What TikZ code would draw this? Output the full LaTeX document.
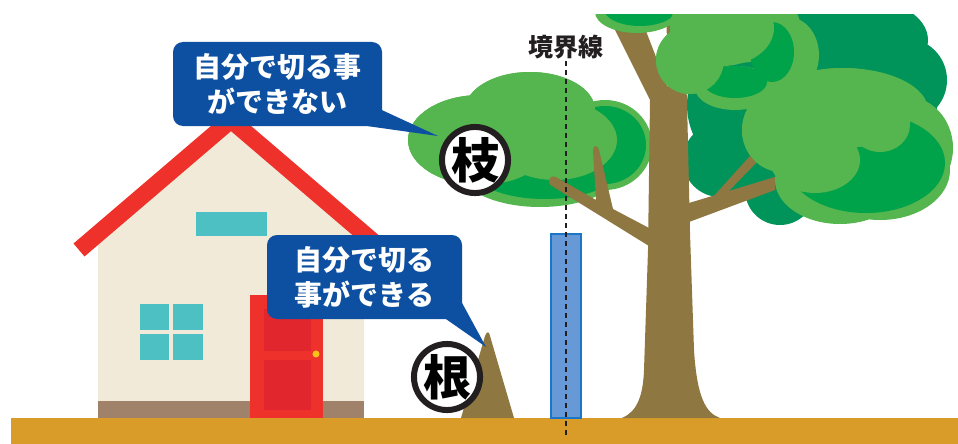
\documentclass[tikz,border=0pt]{standalone}
\usepackage{fontspec}
\usepackage{tikz}
\newfontfamily\jpfont{Noto Sans CJK JP}

\definecolor{soil}{HTML}{DA9C28}
\definecolor{wall}{HTML}{F1EAD8}
\definecolor{plinth}{HTML}{A0826A}
\definecolor{roofred}{HTML}{EE312B}
\definecolor{doorred}{HTML}{E1262E}
\definecolor{glass}{HTML}{4DC0C4}
\definecolor{knob}{HTML}{F7C21B}
\definecolor{bark}{HTML}{8E7741}
\definecolor{leaflight}{HTML}{55B54E}
\definecolor{leafmid}{HTML}{00A24A}
\definecolor{leafdark}{HTML}{00945A}
\definecolor{talkblue}{HTML}{0D4FA0}
\definecolor{postblue}{HTML}{6699D5}
\definecolor{postedge}{HTML}{1B75C8}
\definecolor{ink}{HTML}{231F20}

\begin{document}
\begin{tikzpicture}[x=1pt,y=-1pt,
    talk/.style={fill=talkblue, rounded corners=10pt, text=white, align=center,
      inner sep=0pt, minimum height=84pt,
      font=\jpfont\bfseries\fontsize{28}{35}\selectfont},
    ring/.style={circle, draw=ink, line width=6pt, fill=white, minimum size=64pt,
      inner sep=0pt, font=\jpfont\bfseries\fontsize{48}{48}\selectfont},
    pane/.style={fill=glass}]
  \useasboundingbox (0,0) rectangle (958,444);

  % ground
  \fill[soil] (11,418) rectangle (958,444);

  % house
  \fill[wall] (98,401) -- (98,238) -- (231,124) -- (364,238) -- (364,401) -- cycle;
  \fill[plinth] (98,401) rectangle (364,418);
  \draw[roofred, line width=17pt] (79,250) -- (231,120) -- (383,250);
  \fill[pane] (196,212) rectangle (267,236);
  \fill[pane] (140,304) rectangle (169,330);
  \fill[pane] (173,304) rectangle (203,330);
  \fill[pane] (140,334) rectangle (169,360);
  \fill[pane] (173,334) rectangle (203,360);
  \fill[roofred] (250,295) rectangle (323,418);
  \fill[doorred] (264,309) rectangle (311,351);
  \fill[doorred] (264,360) rectangle (311,410);
  \fill[knob] (316,354) circle (3.5);

  % stump and boundary post
  \fill[bark] (461,418) -- (485,336) .. controls (487,331) and (489,331) .. (490,336) -- (514,418) -- cycle;
  \draw[postedge, fill=postblue, line width=1.5pt] (551,234) rectangle (581,418);

  % tree
  \begin{scope}
    \clip (0,15) rectangle (958,444);
    \fill[leafdark] (812,105) ellipse (125 and 95) (860,40) ellipse (68 and 42)
      (905,80) circle (42) (720,160) circle (37) (780,190) circle (35);
    % crown over the boundary
    \fill[leaflight] (480,140) ellipse (72 and 45) (530,110) ellipse (65 and 38)
      (540,170) ellipse (80 and 37) (605,145) ellipse (47 and 45);
    \fill[leafmid] (605,145) ellipse (41 and 39) (545,170) ellipse (72 and 29);
    \fill[leaflight] (480,140) ellipse (72 and 45) (530,110) ellipse (65 and 38)
      (555,140) ellipse (62 and 40);
    % trunk and limbs
    \fill[bark] (622,418) .. controls (636,412) and (643,398) .. (644,370)
      -- (648,250) -- (650,100) -- (600,0) -- (634,0) -- (668,88)
      -- (666,0) -- (682,0) -- (687,100) -- (690,233) -- (694,350)
      .. controls (697,398) and (706,413) .. (720,418) -- cycle;
    \fill[bark] (649,228) -- (613,209) -- (599,150) .. controls (597,144) and (593,145) .. (593,151)
      -- (596,200) -- (556,177) .. controls (549,174) and (546,183) .. (552,186) -- (649,246) -- cycle;
    \fill[bark] (689,203) -- (775,177) -- (775,190) -- (689,222) -- cycle;
    \fill[bark] (712,198) -- (750,156) -- (758,161) -- (727,193) -- cycle;
    % upper crowns
    \fill[leaflight] (637,12) ellipse (42 and 21);
    \fill[leafmid] (640,9) ellipse (36 and 17);
    \fill[leaflight] (690,60) circle (34) (735,25) ellipse (65 and 38)
      (788,55) ellipse (31 and 38) (735,88) ellipse (40 and 22);
    \fill[leafmid] (772,52) ellipse (22 and 30) (735,82) ellipse (32 and 16);
    \fill[leaflight] (690,60) circle (34) (722,28) ellipse (52 and 38);
    % right crown
    \fill[leaflight] (782,130) ellipse (40 and 42) (843,110) ellipse (85 and 42)
      (840,180) ellipse (65 and 44) (905,148) ellipse (48 and 52)
      (880,170) ellipse (70 and 50);
    \fill[leafmid] (866,163) ellipse (79 and 50);
    \fill[leaflight] (782,130) ellipse (40 and 42) (843,108) ellipse (72 and 40)
      (880,125) ellipse (30 and 27) (815,160) ellipse (45 and 33);
  \end{scope}

  % boundary line
  \node[font=\jpfont\bfseries\fontsize{25}{25}\selectfont, text=ink, inner sep=2pt] (border) at (566,47) {境界線};
  \coordinate (borderEnd) at (566,435);
  \draw[ink, line width=2.5pt, dash pattern=on 5pt off 4pt] (border.south) -- (borderEnd);

  % marks
  \node[ring] (eda) at (475,160) {枝};
  \node[ring] (ne) at (447,377) {根};

  % speech bubbles
  \node[talk, minimum width=209pt] (cant) at (277.5,84) {自分で切る事\\ができない};
  \coordinate (cantTip) at (438,136);
  \fill[talkblue] ([xshift=-14pt]cant.south east) -- ([yshift=16pt]cant.south east) -- (cantTip);

  \node[talk, minimum width=195pt] (can) at (364.5,277) {自分で切る\\事ができる};
  \coordinate (canTip) at (486,347);
  \fill[talkblue] ([xshift=-16pt]can.south east) -- ([yshift=16pt]can.south east) -- (canTip);
\end{tikzpicture}
\end{document}
